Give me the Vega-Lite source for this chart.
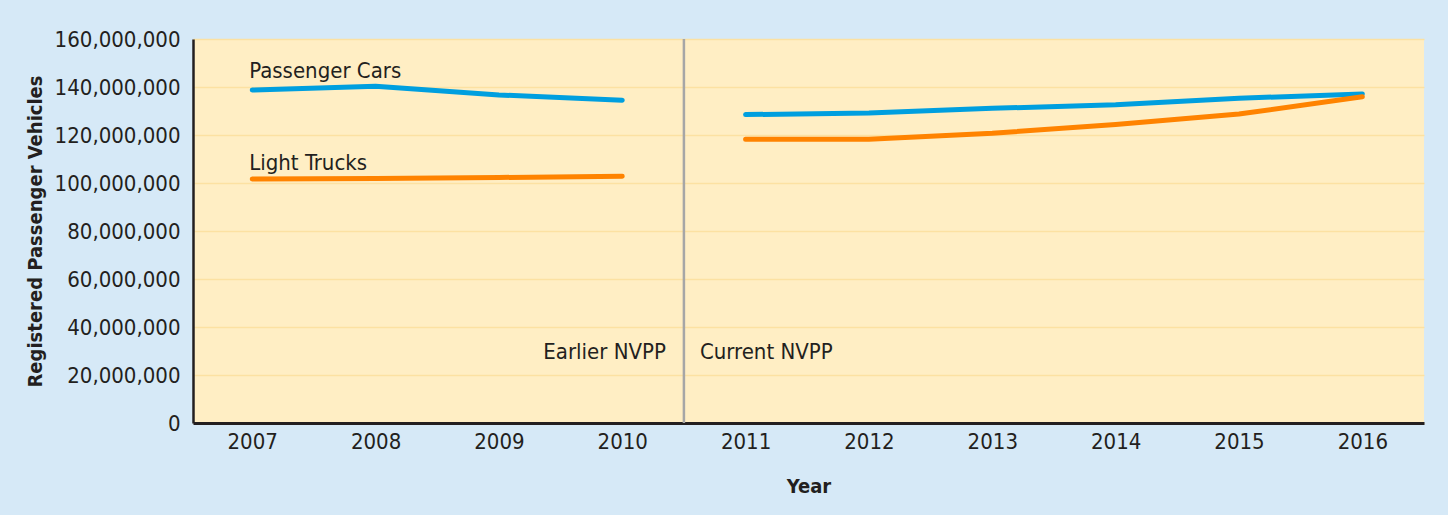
{
  "$schema": "https://vega.github.io/schema/vega-lite/v6.json",
  "width": 1231,
  "height": 384,
  "autosize": {"type": "none"},
  "padding": {"left": 193, "top": 39, "right": 24, "bottom": 92},
  "background": "#D6E9F7",
  "config": {
    "view": {"fill": "#FFEEC4", "stroke": null},
    "font": "DejaVu Sans Condensed, Roboto Condensed, Arial Narrow, Roboto, sans-serif",
    "axis": {
      "labelFont": "DejaVu Sans Condensed, Roboto Condensed, Arial Narrow, Roboto, sans-serif",
      "labelFontSize": 22,
      "labelColor": "#231F20",
      "titleFont": "DejaVu Sans Condensed, Roboto Condensed, Arial Narrow, Roboto, sans-serif",
      "titleFontSize": 20,
      "titleFontWeight": "bold",
      "titleColor": "#231F20",
      "ticks": false,
      "domainColor": "#231F20",
      "domainWidth": 2.5,
      "gridColor": "#FCE1A2",
      "gridWidth": 1.5,
      "labelFlush": false,
      "labelOverlap": false,
      "labelBound": false
    }
  },
  "datasets": {
    "vehicles": [
      {"year": 2007, "value": 138750000, "series": "Passenger Cars", "period": "Earlier"},
      {"year": 2008, "value": 140300000, "series": "Passenger Cars", "period": "Earlier"},
      {"year": 2009, "value": 136700000, "series": "Passenger Cars", "period": "Earlier"},
      {"year": 2010, "value": 134500000, "series": "Passenger Cars", "period": "Earlier"},
      {"year": 2011, "value": 128500000, "series": "Passenger Cars", "period": "Current"},
      {"year": 2012, "value": 129200000, "series": "Passenger Cars", "period": "Current"},
      {"year": 2013, "value": 131100000, "series": "Passenger Cars", "period": "Current"},
      {"year": 2014, "value": 132600000, "series": "Passenger Cars", "period": "Current"},
      {"year": 2015, "value": 135300000, "series": "Passenger Cars", "period": "Current"},
      {"year": 2016, "value": 137100000, "series": "Passenger Cars", "period": "Current"},
      {"year": 2007, "value": 101700000, "series": "Light Trucks", "period": "Earlier"},
      {"year": 2008, "value": 101900000, "series": "Light Trucks", "period": "Earlier"},
      {"year": 2009, "value": 102300000, "series": "Light Trucks", "period": "Earlier"},
      {"year": 2010, "value": 102800000, "series": "Light Trucks", "period": "Earlier"},
      {"year": 2011, "value": 118200000, "series": "Light Trucks", "period": "Current"},
      {"year": 2012, "value": 118200000, "series": "Light Trucks", "period": "Current"},
      {"year": 2013, "value": 120700000, "series": "Light Trucks", "period": "Current"},
      {"year": 2014, "value": 124400000, "series": "Light Trucks", "period": "Current"},
      {"year": 2015, "value": 128750000, "series": "Light Trucks", "period": "Current"},
      {"year": 2016, "value": 135900000, "series": "Light Trucks", "period": "Current"}
    ],
    "seriesLabels": [
      {"year": 2007, "value": 143750000, "label": "Passenger Cars"},
      {"year": 2007, "value": 105400000, "label": "Light Trucks"}
    ],
    "divider": [
      {"year": 2010.5, "value": 0, "value2": 160000000}
    ],
    "earlier": [
      {"year": 2010.5, "value": 26500000, "label": "Earlier NVPP"}
    ],
    "current": [
      {"year": 2010.5, "value": 26500000, "label": "Current NVPP"}
    ]
  },
  "encoding": {
    "x": {
      "field": "year",
      "type": "quantitative",
      "scale": {"domain": [2006.52, 2016.5], "nice": false, "zero": false},
      "axis": {
        "title": "Year",
        "values": [2007, 2008, 2009, 2010, 2011, 2012, 2013, 2014, 2015, 2016],
        "format": "d",
        "grid": false,
        "labelPadding": 8,
        "titlePadding": 24,
        "domainWidth": 3
      }
    },
    "y": {
      "field": "value",
      "type": "quantitative",
      "scale": {"domain": [0, 160000000], "nice": false},
      "axis": {
        "title": "Registered Passenger Vehicles",
        "values": [0, 20000000, 40000000, 60000000, 80000000, 100000000, 120000000, 140000000, 160000000],
        "format": ",d",
        "grid": true,
        "labelPadding": 13,
        "titlePadding": 9
      }
    }
  },
  "layer": [
    {
      "data": {"name": "divider"},
      "mark": {"type": "rule", "color": "#A6A6A6", "strokeWidth": 2.5},
      "encoding": {"y2": {"field": "value2"}}
    },
    {
      "data": {"name": "vehicles"},
      "mark": {"type": "line", "strokeWidth": 5, "strokeCap": "round", "strokeJoin": "round"},
      "encoding": {
        "color": {
          "field": "series",
          "type": "nominal",
          "scale": {"domain": ["Passenger Cars", "Light Trucks"], "range": ["#009FDF", "#FF8300"]},
          "legend": null
        },
        "detail": {"field": "period"}
      }
    },
    {
      "data": {"name": "seriesLabels"},
      "mark": {"type": "text", "align": "left", "baseline": "alphabetic", "dx": -3, "fontSize": 22, "color": "#231F20"},
      "encoding": {"text": {"field": "label"}}
    },
    {
      "data": {"name": "earlier"},
      "mark": {"type": "text", "align": "right", "baseline": "alphabetic", "dx": -18, "fontSize": 22, "color": "#231F20"},
      "encoding": {"text": {"field": "label"}}
    },
    {
      "data": {"name": "current"},
      "mark": {"type": "text", "align": "left", "baseline": "alphabetic", "dx": 16, "fontSize": 22, "color": "#231F20"},
      "encoding": {"text": {"field": "label"}}
    }
  ]
}
